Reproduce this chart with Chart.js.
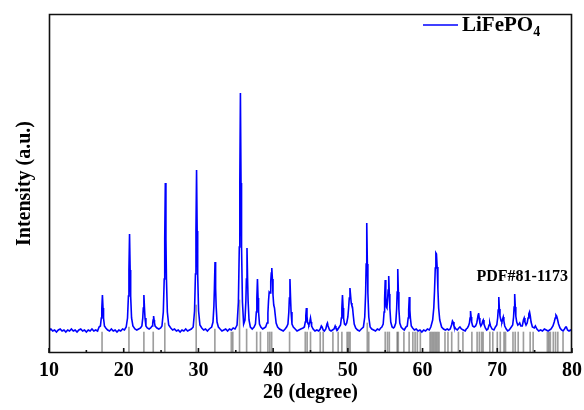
<!DOCTYPE html>
<html>
<head>
<meta charset="utf-8">
<script src="https://cdn.jsdelivr.net/npm/chart.js@4.4.1/dist/chart.umd.min.js"></script>
<style>
  body { margin: 0; background: #fff; overflow: hidden; }
  #wrap { width: 584px; height: 410px; }
  canvas { display: block; }
</style>
</head>
<body>
<div id="wrap"><canvas id="xrd" width="584" height="410"></canvas></div>
<script>
// measured pattern, 2theta (deg) vs intensity (a.u.)
const twoTheta = [
  10.0, 10.25, 10.5, 10.75, 11.0, 11.25, 11.5, 11.75, 12.0, 12.25,
  12.5, 12.75, 13.0, 13.25, 13.5, 13.75, 14.0, 14.25, 14.5, 14.75,
  15.0, 15.25, 15.5, 15.75, 16.0, 16.25, 16.5, 16.7, 16.88, 17.0,
  17.07, 17.15, 17.23, 17.3, 17.42, 17.6, 17.85, 18.1, 18.35, 18.6,
  18.85, 19.1, 19.35, 19.6, 19.85, 20.1, 20.33, 20.51, 20.63, 20.7,
  20.78, 20.86, 20.93, 21.05, 21.23, 21.5, 21.75, 22.0, 22.25, 22.43,
  22.55, 22.62, 22.7, 22.78, 22.85, 22.97, 23.15, 23.4, 23.6, 23.8,
  23.88, 23.93, 24.0, 24.07, 24.12, 24.2, 24.45, 24.7, 24.95, 25.12,
  25.3, 25.42, 25.49, 25.57, 25.65, 25.72, 25.84, 26.02, 26.3, 26.55,
  26.8, 27.05, 27.3, 27.55, 27.8, 28.05, 28.3, 28.55, 28.8, 29.05,
  29.3, 29.48, 29.6, 29.67, 29.75, 29.83, 29.9, 30.02, 30.2, 30.45,
  30.7, 30.95, 31.2, 31.45, 31.77, 31.95, 32.07, 32.14, 32.22, 32.3,
  32.37, 32.49, 32.67, 32.9, 33.15, 33.4, 33.65, 33.9, 34.15, 34.4,
  34.65, 34.9, 35.17, 35.35, 35.47, 35.54, 35.62, 35.7, 35.77, 35.89,
  36.05, 36.23, 36.35, 36.42, 36.5, 36.58, 36.65, 36.77, 36.95, 37.2,
  37.45, 37.63, 37.75, 37.82, 37.9, 37.98, 38.05, 38.17, 38.35, 38.6,
  38.8, 39.0, 39.18, 39.3, 39.38, 39.47, 39.58, 39.68, 39.75, 39.82,
  39.9, 39.98, 40.08, 40.18, 40.28, 40.4, 40.6, 40.85, 41.1, 41.35,
  41.6, 41.8, 41.98, 42.1, 42.17, 42.25, 42.33, 42.4, 42.52, 42.7,
  42.95, 43.2, 43.45, 43.7, 44.0, 44.18, 44.3, 44.37, 44.45, 44.53,
  44.6, 44.68, 44.78, 44.9, 45.0, 45.08, 45.15, 45.35, 45.6, 45.85,
  46.1, 46.3, 46.45, 46.55, 46.7, 46.85, 47.05, 47.2, 47.27, 47.35,
  47.55, 47.75, 47.95, 48.15, 48.3, 48.4, 48.6, 48.85, 49.02, 49.13,
  49.2, 49.28, 49.36, 49.43, 49.55, 49.7, 49.85, 50.0, 50.1, 50.19,
  50.28, 50.37, 50.45, 50.55, 50.62, 50.72, 50.85, 51.05, 51.3, 51.55,
  51.8, 52.08, 52.26, 52.38, 52.45, 52.53, 52.61, 52.68, 52.8, 52.98,
  53.2, 53.45, 53.7, 53.95, 54.2, 54.4, 54.55, 54.73, 54.85, 54.92,
  55.0, 55.08, 55.15, 55.23, 55.32, 55.39, 55.47, 55.55, 55.62, 55.74,
  55.92, 56.1, 56.23, 56.41, 56.53, 56.6, 56.68, 56.76, 56.83, 56.95,
  57.13, 57.35, 57.55, 57.77, 57.95, 58.07, 58.14, 58.22, 58.3, 58.37,
  58.49, 58.67, 58.9, 59.15, 59.4, 59.65, 59.9, 60.15, 60.4, 60.65,
  60.9, 61.1, 61.35, 61.5, 61.6, 61.7, 61.78, 61.86, 61.95, 62.05,
  62.15, 62.3, 62.55, 62.8, 63.05, 63.3, 63.5, 63.7, 63.88, 64.0,
  64.08, 64.2, 64.45, 64.65, 64.85, 65.0, 65.2, 65.45, 65.7, 65.85,
  66.0, 66.15, 66.27, 66.35, 66.42, 66.5, 66.57, 66.7, 66.9, 67.1,
  67.25, 67.35, 67.43, 67.5, 67.58, 67.67, 67.8, 67.95, 68.05, 68.12,
  68.22, 68.4, 68.58, 68.75, 68.9, 69.0, 69.1, 69.3, 69.55, 69.75,
  69.93, 70.05, 70.12, 70.2, 70.28, 70.36, 70.5, 70.62, 70.72, 70.8,
  70.88, 71.0, 71.2, 71.4, 71.6, 71.88, 72.06, 72.18, 72.25, 72.33,
  72.41, 72.48, 72.6, 72.75, 72.9, 73.0, 73.15, 73.35, 73.5, 73.6,
  73.7, 73.85, 74.0, 74.12, 74.22, 74.32, 74.42, 74.52, 74.7, 74.95,
  75.1, 75.3, 75.55, 75.8, 76.05, 76.3, 76.55, 76.8, 77.0, 77.2,
  77.45, 77.62, 77.75, 77.85, 77.95, 78.05, 78.2, 78.4, 78.6, 78.8,
  79.0, 79.15, 79.25, 79.4, 79.6, 79.8, 80.0
];
const intensity = [
  22, 24, 22, 23, 21, 23, 24, 22, 23, 21,
  23, 22, 24, 22, 23, 21, 23, 24, 22, 23,
  21, 23, 22, 24, 22, 23, 22, 26, 27, 35,
  45, 58, 45, 35, 27, 25, 23, 22, 24, 22,
  23, 21, 23, 22, 24, 23, 26, 35, 57, 83,
  119, 83, 57, 35, 27, 24, 23, 24, 25, 27,
  35, 45, 58, 45, 35, 27, 25, 24, 25, 27,
  30, 33, 37, 33, 30, 27, 25, 24, 25, 27,
  41, 74, 114, 170, 114, 74, 41, 28, 25, 23,
  24, 22, 23, 21, 23, 22, 24, 22, 23, 24,
  26, 42, 79, 122, 183, 122, 79, 42, 28, 25,
  23, 24, 22, 24, 26, 31, 47, 65, 91, 65,
  47, 31, 26, 24, 22, 23, 24, 22, 24, 23,
  25, 24, 28, 51, 106, 170, 260, 170, 106, 51,
  29, 33, 52, 74, 105, 74, 52, 33, 26, 24,
  26, 29, 41, 55, 74, 55, 41, 29, 26, 24,
  25, 26, 30, 40, 52, 61, 60, 72, 80, 85,
  74, 58, 48, 45, 38, 30, 26, 24, 23, 22,
  24, 26, 29, 41, 55, 74, 55, 41, 29, 26,
  24, 22, 23, 24, 25, 26, 31, 37, 45, 37,
  31, 29, 28, 31, 35, 31, 27, 24, 22, 23,
  22, 24, 27, 26, 23, 22, 24, 29, 30, 27,
  23, 22, 23, 24, 27, 25, 23, 26, 28, 35,
  45, 58, 45, 35, 29, 28, 30, 36, 45, 55,
  65, 57, 50, 47, 46, 38, 29, 25, 23, 22,
  24, 26, 36, 60, 89, 130, 89, 60, 36, 26,
  24, 23, 22, 24, 23, 25, 26, 29, 41, 54,
  73, 56, 46, 45, 54, 63, 77, 59, 45, 31,
  26, 25, 26, 30, 44, 61, 84, 61, 44, 30,
  26, 24, 23, 26, 27, 35, 43, 56, 43, 35,
  27, 25, 23, 24, 22, 23, 21, 23, 22, 24,
  23, 26, 33, 45, 62, 85, 100, 99, 86, 64,
  45, 33, 26, 24, 23, 24, 23, 24, 28, 32,
  31, 27, 24, 23, 25, 26, 24, 23, 22, 24,
  25, 27, 30, 35, 42, 36, 31, 27, 26, 27,
  30, 34, 38, 40, 35, 30, 27, 29, 32, 33,
  29, 25, 23, 24, 28, 30, 27, 24, 23, 26,
  28, 35, 43, 56, 44, 37, 32, 31, 34, 36,
  32, 27, 24, 22, 23, 26, 28, 36, 46, 59,
  46, 37, 31, 28, 29, 30, 27, 27, 33, 35,
  31, 28, 30, 35, 39, 41, 37, 31, 26, 25,
  27, 24, 22, 23, 22, 24, 23, 22, 23, 24,
  27, 31, 35, 38, 37, 34, 29, 25, 23, 22,
  24, 26, 26, 23, 22, 23, 22
];

// reference card PDF#81-1173 lines
const pdfPos = [
  17.1, 20.7, 22.7, 23.95, 25.5, 29.7, 32.2, 34.4, 34.6, 35.5,
  36.45, 37.8, 38.3, 39.3, 39.55, 39.8, 42.2, 44.3, 44.55, 45.0,
  46.3, 46.7, 48.0, 48.7, 49.2, 49.9, 50.1, 50.3, 52.6, 52.8,
  55.0, 55.3, 55.55, 56.6, 56.75, 57.5, 58.2, 58.7, 59.0, 59.3,
  59.7, 61.0, 61.2, 61.4, 61.6, 61.8, 62.0, 62.2, 63.0, 63.4,
  63.9, 64.8, 65.4, 66.6, 67.3, 67.6, 67.9, 68.1, 69.0, 69.4,
  70.0, 70.4, 70.9, 71.1, 72.1, 72.4, 72.8, 73.5, 74.4, 74.8,
  76.7, 76.9, 77.1, 77.5, 77.8, 78.1, 78.8
];
const pdfHeight = [
  21, 26, 21, 21, 30, 48, 24, 21, 21, 53,
  24, 21, 21, 21, 21, 21, 21, 21, 21, 21,
  21, 21, 21, 21, 21, 21, 21, 21, 30, 21,
  21, 21, 21, 21, 21, 21, 21, 21, 21, 21,
  21, 21, 21, 21, 21, 21, 21, 21, 21, 21,
  21, 21, 21, 21, 21, 21, 21, 21, 21, 21,
  21, 21, 21, 21, 21, 21, 21, 21, 21, 21,
  21, 21, 21, 21, 21, 21, 21
];

const xTicks = [10, 20, 30, 40, 50, 60, 70, 80];
const minorTicks = [15, 25, 35, 45, 55, 65, 75];

const serif = '"Liberation Serif", "Times New Roman", serif';

// frame, inward ticks, legend and card label
const decor = {
  id: 'decor',
  afterDraw(chart) {
    const ctx = chart.ctx;
    const a = chart.chartArea;
    const xs = chart.scales.x;
    const L = Math.round(a.left), R = Math.round(a.right);
    const T = Math.round(a.top), B = Math.round(a.bottom);
    ctx.save();
    ctx.strokeStyle = '#111';
    ctx.lineWidth = 1.6;
    ctx.lineCap = 'square';
    ctx.beginPath();
    ctx.moveTo(L + 0.5, T + 0.5);
    ctx.lineTo(R - 0.5, T + 0.5);
    ctx.lineTo(R - 0.5, B - 0.5);
    ctx.lineTo(L + 0.5, B - 0.5);
    ctx.closePath();
    ctx.stroke();

    ctx.lineCap = 'butt';
    ctx.beginPath();
    xTicks.forEach(v => {
      const px = xs.getPixelForValue(v);
      ctx.moveTo(px, B);
      ctx.lineTo(px, B - 5);
    });
    minorTicks.forEach(v => {
      const px = xs.getPixelForValue(v);
      ctx.moveTo(px, B);
      ctx.lineTo(px, B - 3);
    });
    ctx.stroke();

    // legend
    ctx.strokeStyle = 'rgb(0,0,255)';
    ctx.lineWidth = 1.5;
    ctx.beginPath();
    ctx.moveTo(423, 25);
    ctx.lineTo(458, 25);
    ctx.stroke();
    ctx.fillStyle = '#000';
    ctx.textBaseline = 'middle';
    ctx.textAlign = 'left';
    ctx.font = 'bold 21px ' + serif;
    ctx.fillText('LiFePO', 462, 26);
    const w = ctx.measureText('LiFePO').width;
    ctx.font = 'bold 14px ' + serif;
    ctx.fillText('4', 462 + w, 32);

    ctx.font = 'bold 16px ' + serif;
    ctx.textAlign = 'right';
    ctx.fillText('PDF#81-1173', 568, 277);
    ctx.restore();
  }
};

new Chart(document.getElementById('xrd'), {
  type: 'line',
  data: {
    datasets: [
      {
        label: 'LiFePO4',
        data: twoTheta.map((x, i) => ({ x: x, y: intensity[i] })),
        borderColor: 'rgb(0,0,255)',
        borderWidth: 1.6,
        pointRadius: 0,
        tension: 0,
        order: 0
      },
      {
        type: 'bar',
        label: 'PDF#81-1173',
        data: pdfPos.map((x, i) => ({ x: x, y: pdfHeight[i] })),
        backgroundColor: 'rgba(0,0,0,0.38)',
        barThickness: 1,
        order: 1
      }
    ]
  },
  options: {
    responsive: false,
    animation: false,
    layout: { padding: { top: 14, right: 12, left: 0, bottom: 0 } },
    plugins: { legend: { display: false }, tooltip: { enabled: false } },
    scales: {
      x: {
        type: 'linear',
        min: 10,
        max: 80,
        offset: false,
        grid: { display: false },
        border: { display: false },
        ticks: {
          stepSize: 10,
          maxRotation: 0,
          autoSkip: false,
          padding: -2,
          color: '#000',
          font: { family: serif, size: 20, weight: 'bold', lineHeight: 1.2 }
        },
        title: {
          display: true,
          text: '2θ (degree)',
          color: '#000',
          padding: { top: 0, bottom: 5 },
          font: { family: serif, size: 20, weight: 'bold', lineHeight: 1.2 }
        },
        afterFit(s) { s.height = 57; }
      },
      y: {
        min: 0,
        max: 339,
        grid: { display: false },
        border: { display: false },
        ticks: { display: false },
        title: {
          display: true,
          text: 'Intensity (a.u.)',
          color: '#000',
          padding: { top: 13, bottom: 0 },
          font: { family: serif, size: 20, weight: 'bold', lineHeight: 1.2 }
        },
        afterFit(s) { s.width = 49; }
      }
    }
  },
  plugins: [decor]
});
</script>
</body>
</html>
